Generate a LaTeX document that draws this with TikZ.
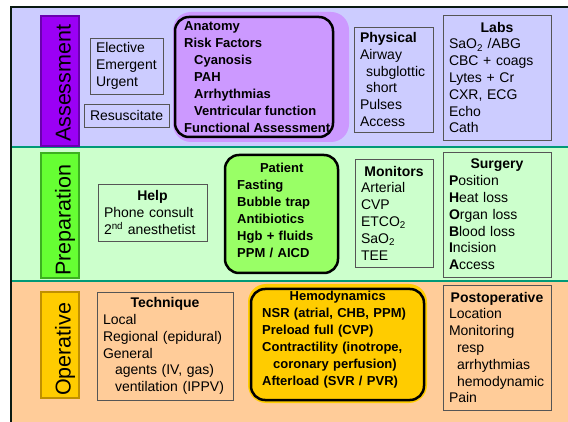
\documentclass[tikz,border=0pt]{standalone}
\usepackage{fontspec}
\setmainfont{Liberation Sans}
\definecolor{bandA}{HTML}{CCCCFF}
\definecolor{bandP}{HTML}{CCFFCC}
\definecolor{bandO}{HTML}{FFCC99}
\definecolor{sepcol}{HTML}{009977}
\definecolor{framecol}{HTML}{0A1A12}
\definecolor{boxgray}{HTML}{555555}
\definecolor{tabAfill}{HTML}{9B00F5}
\definecolor{tabAedge}{HTML}{6A00B0}
\definecolor{tabPfill}{HTML}{66FF33}
\definecolor{tabPedge}{HTML}{3CB020}
\definecolor{tabOfill}{HTML}{FFCC00}
\definecolor{tabOedge}{HTML}{C09000}
\definecolor{purplefill}{HTML}{CC99FF}
\definecolor{greenfill}{HTML}{99FF66}
\definecolor{yellowfill}{HTML}{FFCC00}
\begin{document}
\begin{tikzpicture}[x=1pt,y=-1pt,
  box/.style={draw=boxgray, line width=0.9pt, inner xsep=6pt, inner ysep=0pt, align=left, font=\fontsize{14}{16.8}\selectfont},
  tabbox/.style={line width=1.2pt, minimum width=38pt, inner sep=0pt},
  tabtext/.style={rotate=90, anchor=base west, inner sep=0pt, font=\fontsize{21.5}{24}\selectfont},
  btext/.style={inner sep=0pt, align=left, font=\fontsize{13}{17}\selectfont\bfseries},
  rbox/.style={draw=black, line width=2.5pt, rounded corners=14pt, inner sep=0pt},
  sep/.style={draw=sepcol, line width=2pt},
  frameline/.style={draw=framecol, line width=2.6pt}]

\useasboundingbox (0,0) rectangle (568,422);
\fill[white] (0,0) rectangle (568,422);
\fill[bandA] (11,7) rectangle (568,147);
\fill[bandP] (11,147) rectangle (568,281);
\fill[bandO] (11,281) rectangle (568,422);
\draw[sep] (12,147) -- (568,147);
\draw[sep] (12,281) -- (568,281);
\draw[frameline] (11,422) -- (11,7) -- (568,7);

% tabs
\node (tabA) [tabbox, fill=tabAfill, draw=tabAedge, minimum height=130pt] at (60,81) {};
\node (tabAt) [tabtext] at (70.5,142) {Assessment};
\node (tabP) [tabbox, fill=tabPfill, draw=tabPedge, minimum height=125pt] at (60,215.5) {};
\node (tabPt) [tabtext] at (70.5,276) {Preparation};
\node (tabO) [tabbox, fill=tabOfill, draw=tabOedge, minimum height=106pt] at (60,345) {};
\node (tabOt) [tabtext] at (70.5,396) {Operative};

% Assessment row
\node (elect) [box, minimum width=73pt, minimum height=56pt, text width=61pt] at (126.5,66)
  {Elective\\Emergent\\Urgent};
\node (resus) [box, minimum width=85pt, minimum height=23pt, text width=73pt, align=center] at (126.5,115.5)
  {Resuscitate};

\fill[purplefill, rounded corners=18pt] (173,12) rectangle (349,142);
\node (anatbox) [rbox, minimum width=158pt, minimum height=120pt] at (254,77) {};
\node (anat) [btext, anchor=west] at (184,77)
  {Anatomy\\Risk Factors\\\hspace*{10pt}Cyanosis\\\hspace*{10pt}PAH\\\hspace*{10pt}Arrhythmias\\\hspace*{10pt}Ventricular function\\Functional Assessment};

\node (phys) [box, minimum width=79pt, minimum height=105pt, text width=67pt] at (393.5,79.5)
  {\textbf{Physical}\\Airway\\\hspace*{6pt}subglottic\\\hspace*{6pt}short\\Pulses\\Access};
\node (labs) [box, minimum width=108pt, minimum height=125pt, text width=96pt] at (497,77.5)
  {\makebox[\linewidth]{\textbf{Labs}}\\SaO\textsubscript{2} /ABG\\CBC + coags\\Lytes + Cr\\CXR, ECG\\Echo\\Cath};

% Preparation row
\node (help) [box, minimum width=109pt, minimum height=57pt, text width=97pt] at (152.5,212.5)
  {\makebox[\linewidth]{\textbf{Help}}\\Phone consult\\2\textsuperscript{nd} anesthetist};

\node (patbox) [rbox, fill=greenfill, minimum width=113pt, minimum height=118pt] at (281.5,214) {};
\node (pat) [btext, text width=89pt, anchor=west] at (237,210)
  {\makebox[\linewidth]{Patient}\\Fasting\\Bubble trap\\Antibiotics\\Hgb + fluids\\PPM / AICD};

\node (monit) [box, minimum width=78pt, minimum height=108pt, text width=66pt] at (394,213)
  {\makebox[\linewidth]{\textbf{Monitors}}\\Arterial\\CVP\\ETCO\textsubscript{2}\\SaO\textsubscript{2}\\TEE};
\node (surg) [box, minimum width=108pt, minimum height=125pt, text width=96pt] at (497,214.5)
  {\makebox[\linewidth]{\textbf{Surgery}}\\\textbf{P}osition\\\textbf{H}eat loss\\\textbf{O}rgan loss\\\textbf{B}lood loss\\\textbf{I}ncision\\\textbf{A}ccess};

% Operative row
\node (tech) [box, minimum width=136pt, minimum height=108pt, text width=124pt] at (165,346)
  {\makebox[\linewidth]{\textbf{Technique}}\\Local\\Regional (epidural)\\General\\\hspace*{12pt}agents (IV, gas)\\\hspace*{12pt}ventilation (IPPV)};

\fill[yellowfill, rounded corners=18pt] (248,284) rectangle (427,403);
\node (hemobox) [rbox, minimum width=173pt, minimum height=111pt] at (337.5,344.5) {};
\node (hemo) [btext, text width=151pt, anchor=west] at (262,340)
  {\makebox[\linewidth]{Hemodynamics}\\NSR (atrial, CHB, PPM)\\Preload full (CVP)\\Contractility (inotrope,\\\hspace*{11pt}coronary perfusion)\\Afterload (SVR / PVR)};

\node (postop) [box, minimum width=108pt, minimum height=125pt, text width=96pt] at (497,347.5)
  {\makebox[\linewidth]{\textbf{Postoperative}}\\Location\\Monitoring\\\hspace*{8pt}resp\\\hspace*{8pt}arrhythmias\\\hspace*{8pt}hemodynamic\\Pain};
\end{tikzpicture}
\end{document}
